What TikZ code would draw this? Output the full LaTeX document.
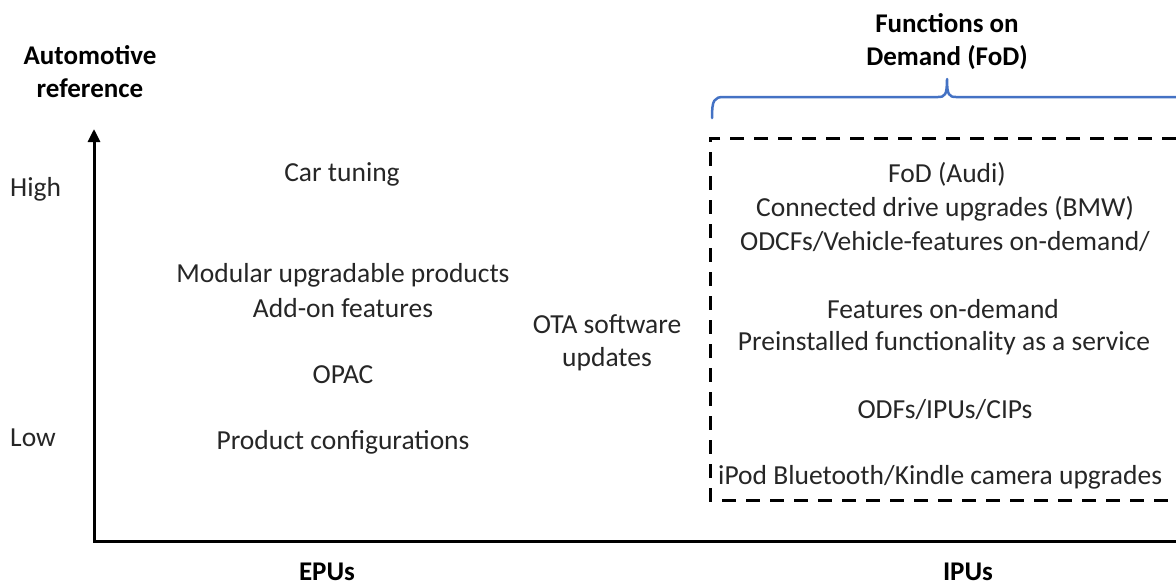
\documentclass[tikz,border=0pt]{standalone}
\usepackage{fontspec}
\setmainfont{Carlito}
\usetikzlibrary{arrows.meta}
\definecolor{braceblue}{HTML}{4472C4}
\definecolor{txt}{HTML}{262626}
\tikzset{
  lbl/.style={inner sep=0pt, text=txt, font=\fontsize{27.5}{33}\selectfont, align=center, yshift=-2pt},
  head/.style={inner sep=0pt, text=black, font=\fontsize{27}{33}\selectfont\bfseries, align=center},
  axis/.style={line width=3pt, black},
  fodbox/.style={line width=3pt, black, dash pattern=on 14pt off 10pt},
  bracepath/.style={line width=2.5pt, braceblue, line cap=round, line join=round}
}
\begin{document}
\begin{tikzpicture}[x=1pt, y=-1pt]
\useasboundingbox (0,0) rectangle (1176,587);
\clip (0,0) rectangle (1176,587);

% axes
\coordinate (origin) at (94,541);
\coordinate (ytop) at (94,129);
\coordinate (xend) at (1190,541);
\draw[axis, -{Triangle[length=13pt,width=12pt]}] (xend) -- (origin) -- (ytop);

% axis titles
\node[head] (ylabel) at (90,72) {Automotive\\reference};
\node[head] (epus) at (327,572) {EPUs};
\node[head] (ipus) at (968,572) {IPUs};
\node[lbl, anchor=west] (high) at (10,187) {High};
\node[lbl, anchor=west] (low) at (10,436) {Low};

% EPU examples
\node[lbl] (tuning) at (342,172) {Car tuning};
\node[lbl] (modular) at (343,273) {Modular upgradable products};
\node[lbl] (addon) at (343,306) {Add-on features};
\node[lbl] (opac) at (343,373) {OPAC};
\node[lbl] (config) at (343,440) {Product configurations};
\node[lbl] (ota) at (607,341) {OTA software\\updates};

% functions-on-demand box
\draw[fodbox] (1200,138) -- (710,138) -- (710,500) -- (1200,500);
\node[lbl] (fodaudi) at (947,172) {FoD (Audi)};
\node[lbl] (bmw) at (945,207) {Connected drive upgrades (BMW)};
\node[lbl] (odcf) at (945,240) {ODCFs/Vehicle-features on-demand/};
\node[lbl] (feat) at (943,307) {Features on-demand};
\node[lbl] (preinst) at (944,341) {Preinstalled functionality as a service};
\node[lbl] (odf) at (945,408) {ODFs/IPUs/CIPs};
\node[lbl, anchor=west] (ipod) at (718,475) {iPod Bluetooth/Kindle camera upgrades};

% brace over the box
\node[head] (fodtitle) at (947,42) {Functions on\\Demand (FoD)};
\coordinate (bl) at (712,118);
\coordinate (btip) at (947,79);
\coordinate (br) at (1200,97);
\draw[bracepath] (bl) .. controls (712,100) and (714,97) .. (724,97)
  -- (938,97) .. controls (945,97) and (947,95) .. (btip)
  .. controls (947,95) and (949,97) .. (956,97) -- (br);
\end{tikzpicture}
\end{document}
